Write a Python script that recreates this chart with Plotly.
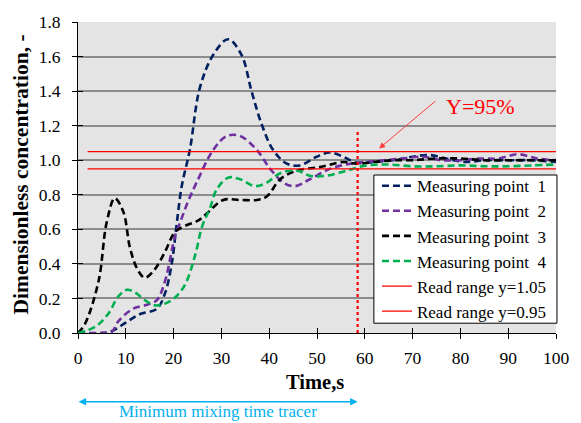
import plotly.graph_objects as go

# ---------------- data ----------------
t1 = [0, 5, 7, 10, 13, 16.5, 18.2, 19.6, 20.6, 21.7, 23.4, 25.5, 28.3, 31.4, 34.2, 36.3, 38.4, 40.8, 43.7, 46.4,
      49.9, 52.7, 55.5, 58.3, 62, 66, 70, 73.5, 77, 81, 85, 90, 95, 100]
c1 = [0, 0, 0.01, 0.06, 0.11, 0.14, 0.23, 0.40, 0.62, 0.85, 1.06, 1.42, 1.61, 1.70, 1.61, 1.40, 1.21, 1.06, 0.98, 0.97,
      1.02, 1.045, 1.02, 0.985, 0.99, 1.0, 1.02, 1.03, 1.01, 0.99, 1.0, 1.0, 1.0, 0.99]

t2 = [0, 5, 7, 8.5, 11.5, 14.6, 16.5, 18.2, 20.3, 21.5, 23, 24.8, 28.3, 31.1, 33.9, 37.4, 40.2, 43, 45.4, 48.5,
      52.7, 57, 60, 64, 68, 72, 76, 80, 84, 88, 92, 96, 100]
c2 = [0, 0, 0.005, 0.07, 0.14, 0.165, 0.19, 0.30, 0.56, 0.65, 0.76, 0.87, 1.06, 1.14, 1.14, 1.06, 0.95, 0.87, 0.85, 0.89,
      0.95, 0.98, 0.99, 1.0, 1.01, 1.02, 1.0, 1.0, 1.01, 1.01, 1.035, 1.01, 1.0]

t3 = [0, 1.5, 4.3, 6, 7.7, 9.5, 10.9, 12.6, 14, 16.1, 18.2, 20.3, 22.4, 25.1, 26.9, 30.4, 33.9, 37.4, 39.5, 42.3,
      45.8, 50.6, 55.5, 58.3, 62, 66, 70, 75, 80, 85, 90, 95, 100]
c3 = [0, 0.055, 0.30, 0.64, 0.78, 0.70, 0.49, 0.36, 0.32, 0.37, 0.47, 0.585, 0.62, 0.65, 0.69, 0.77, 0.77, 0.77, 0.79, 0.89,
      0.94, 0.96, 0.99, 0.98, 0.99, 1.0, 1.0, 1.01, 1.01, 1.0, 1.0, 1.0, 1.0]

t4 = [0, 3.6, 6.3, 8.4, 10.2, 11.9, 14, 16.1, 18.2, 20.3, 22.4, 24.5, 26, 27.6, 29, 31.5, 33.9, 37, 39.5, 42.3,
      45.8, 48.5, 52, 56.2, 60.4, 65, 70, 75, 80, 85, 90, 95, 100]
c4 = [0, 0.036, 0.11, 0.21, 0.25, 0.235, 0.19, 0.16, 0.17, 0.205, 0.28, 0.45, 0.62, 0.72, 0.83, 0.90, 0.89, 0.85, 0.87, 0.925,
      0.94, 0.91, 0.91, 0.94, 0.97, 0.975, 0.965, 0.965, 0.97, 0.965, 0.965, 0.97, 0.975]

range_t = [2, 100]
upper = [1.05, 1.05]
lower = [0.95, 0.95]
mix_time = 58.5
mix_line_y = [0, 1.17]

names = ["Measuring point\u00a0\u00a01", "Measuring point\u00a0\u00a02",
         "Measuring point\u00a0\u00a03", "Measuring point\u00a0\u00a04"]
colors = ["#002060", "#7030A0", "#000000", "#00B050"]

x_ticks = list(range(0, 101, 10))
y_ticks = [0.0, 0.2, 0.4, 0.6, 0.8, 1.0, 1.2, 1.4, 1.6, 1.8]

FONT = "Liberation Serif"

fig = go.Figure()
for t, c, n, col in zip([t1, t2, t3, t4], [c1, c2, c3, c4], names, colors):
    fig.add_trace(go.Scatter(x=t, y=c, name=n, mode="lines",
                             line=dict(color=col, width=2.6, dash="7px,4px", shape="spline", smoothing=1.0)))

fig.add_trace(go.Scatter(x=range_t, y=upper, name="Read range y=1.05", mode="lines",
                         line=dict(color="#FF0000", width=1.3)))
fig.add_trace(go.Scatter(x=range_t, y=lower, name="Read range y=0.95", mode="lines",
                         line=dict(color="#FF0000", width=1.3)))
fig.add_trace(go.Scatter(x=[mix_time, mix_time], y=mix_line_y, mode="lines", showlegend=False,
                         line=dict(color="#FF0000", width=2.2, dash="dot"), cliponaxis=False))

# dummy trace for inner tick axes
fig.add_trace(go.Scatter(x=[None], y=[None], xaxis="x2", yaxis="y2", showlegend=False, hoverinfo="skip"))

fig.update_layout(
    width=581, height=423,
    margin=dict(l=78, r=25, t=16, b=90),
    paper_bgcolor="white",
    plot_bgcolor="#E4E4E4",
    font=dict(family=FONT, size=17, color="black"),
    showlegend=True,
    legend=dict(x=0.6255, y=0.53, xanchor="left", yanchor="top",
                bgcolor="rgba(0,0,0,0)", borderwidth=0,
                font=dict(family=FONT, size=17, color="black"),
                tracegroupgap=0, itemwidth=30),
    xaxis=dict(range=[0, 100], tickvals=x_ticks, ticks="outside", ticklen=5, tickwidth=1, tickcolor="black",
               showline=True, linecolor="black", linewidth=1, showgrid=False, zeroline=False,
               tickfont=dict(family=FONT, size=17.5), ticklabelstandoff=4),
    yaxis=dict(range=[0, 1.8], tickvals=y_ticks, tickformat=".1f", ticks="outside", ticklen=5, tickwidth=1,
               tickcolor="black", showline=True, linecolor="black", linewidth=1,
               showgrid=True, gridcolor="#8C8C8C", gridwidth=1.5, zeroline=False,
               tickfont=dict(family=FONT, size=17.5), ticklabelstandoff=8),
    xaxis2=dict(range=[0, 100], tickvals=x_ticks, ticks="inside", ticklen=5, tickcolor="black",
                showticklabels=False, showgrid=False, zeroline=False, overlaying="x", anchor="y"),
    yaxis2=dict(range=[0, 1.8], tickvals=y_ticks, ticks="inside", ticklen=5, tickcolor="black",
                showticklabels=False, showgrid=False, zeroline=False, overlaying="y", anchor="x"),
    shapes=[dict(type="rect", xref="paper", yref="paper", x0=0.619, x1=1.002, y0=0.0315, y1=0.508,
                 fillcolor="white", line=dict(color="black", width=1), layer="above")],
)

annotations = [
    dict(text="<b>Time,s</b>", xref="paper", yref="paper", x=0.496, y=-0.158, xanchor="center", yanchor="middle",
         showarrow=False, font=dict(family=FONT, size=20.5, color="black")),
    dict(text="<b>Dimensionless concentration, -</b>", xref="paper", yref="paper", x=-0.119, y=0.51,
         xanchor="center", yanchor="middle", textangle=-90, showarrow=False,
         font=dict(family=FONT, size=21.5, color="black")),
    # Y=95% arrow
    dict(text="", x=63, y=1.068, xref="x", yref="y", ax=75.1, ay=1.35, axref="x", ayref="y",
         showarrow=True, arrowhead=2, arrowsize=1.2, arrowwidth=1, arrowcolor="#FF3B3B"),
    dict(text="Y=95%", x=84.3, y=1.31, xref="x", yref="y", xanchor="center", yanchor="middle",
         showarrow=False, font=dict(family=FONT, size=22, color="#FF0000")),
    # mixing time arrow
    dict(text="", x=mix_time, y=-0.221, xref="x", yref="paper", ax=-0.2, ay=0, axref="x", ayref="pixel",
         showarrow=True, arrowhead=2, arrowside="end+start", arrowsize=1, arrowwidth=1.5, arrowcolor="#00B0F0"),
    dict(text="Minimum mixing time tracer", x=29.3, y=-0.252, xref="x", yref="paper", xanchor="center",
         yanchor="middle", showarrow=False, font=dict(family=FONT, size=17, color="#00B0F0")),
]
fig.update_layout(annotations=annotations)

fig.write_html("out.html", config={"displayModeBar": False},
               post_script="document.body.style.margin='0';document.body.style.overflow='hidden';")
